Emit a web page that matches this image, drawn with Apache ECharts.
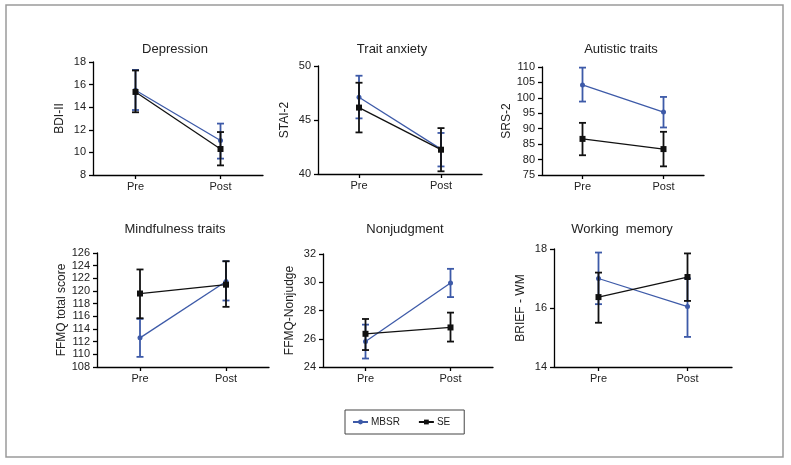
<!DOCTYPE html>
<html><head><meta charset="utf-8">
<script src="https://cdn.jsdelivr.net/npm/echarts@6/dist/echarts.min.js"></script>
<style>html,body{margin:0;padding:0;background:#fff}#c{width:791px;height:465px}</style>
</head><body><div id="c"></div>
<script>
const categories = ['Pre', 'Post'];
const titles = ['Depression', 'Trait anxiety', 'Autistic traits', 'Mindfulness traits', 'Nonjudgment', 'Working  memory'];
const yNames = ['BDI-II', 'STAI-2', 'SRS-2', 'FFMQ total score', 'FFMQ-Nonjudge', 'BRIEF - WM'];
const yMins = [8, 40, 75, 108, 24, 14];
const yMaxs = [18, 50, 110, 126, 32, 18];
const yIntervals = [2, 5, 5, 2, 2, 2];

// means
const depMBSR = [15.5, 11.05];
const depSE = [15.35, 10.3];
const anxMBSR = [47.1, 42.3];
const anxSE = [46.15, 42.25];
const autMBSR = [104.2, 95.4];
const autSE = [86.7, 83.4];
const mindMBSR = [112.6, 121.5];
const mindSE = [119.6, 121.0];
const nonjMBSR = [25.8, 29.95];
const nonjSE = [26.35, 26.8];
const wmMBSR = [17.0, 16.05];
const wmSE = [16.37, 17.05];

// error bar lows / highs
const depMBSRLow = [13.75, 9.45],  depMBSRHigh = [17.3, 12.55];
const depSELow = [13.55, 8.85],    depSEHigh = [17.25, 11.8];
const anxMBSRLow = [45.15, 40.7],  anxMBSRHigh = [49.1, 43.8];
const anxSELow = [43.85, 40.25],   anxSEHigh = [48.45, 44.25];
const autMBSRLow = [98.8, 90.4],   autMBSRHigh = [109.8, 100.3];
const autSELow = [81.4, 77.8],     autSEHigh = [91.9, 89.0];
const mindMBSRLow = [109.6, 118.5], mindMBSRHigh = [115.6, 124.7];
const mindSELow = [115.7, 117.5],  mindSEHigh = [123.4, 124.7];
const nonjMBSRLow = [24.6, 28.95], nonjMBSRHigh = [27.0, 30.95];
const nonjSELow = [25.2, 25.8],    nonjSEHigh = [27.4, 27.85];
const wmMBSRLow = [16.13, 15.02],  wmMBSRHigh = [17.88, 17.0];
const wmSELow = [15.5, 16.24],     wmSEHigh = [17.2, 17.85];

const mbsrMeans = [depMBSR, anxMBSR, autMBSR, mindMBSR, nonjMBSR, wmMBSR];
const seMeans = [depSE, anxSE, autSE, mindSE, nonjSE, wmSE];
const mbsrLows = [depMBSRLow, anxMBSRLow, autMBSRLow, mindMBSRLow, nonjMBSRLow, wmMBSRLow];
const mbsrHighs = [depMBSRHigh, anxMBSRHigh, autMBSRHigh, mindMBSRHigh, nonjMBSRHigh, wmMBSRHigh];
const seLows = [depSELow, anxSELow, autSELow, mindSELow, nonjSELow, wmSELow];
const seHighs = [depSEHigh, anxSEHigh, autSEHigh, mindSEHigh, nonjSEHigh, wmSEHigh];

// layout
const grids = [
  {left: 93, top: 62, width: 170, height: 113},
  {left: 318, top: 66, width: 164, height: 108},
  {left: 542, top: 67, width: 162, height: 108},
  {left: 97, top: 253, width: 172, height: 114},
  {left: 323, top: 254, width: 170, height: 113},
  {left: 554, top: 249, width: 178, height: 118}
];
const titlePos = [[175, 49], [392, 49], [621, 49], [175, 229], [405, 229], [622, 229]];

const BLUE = '#3d5aa8';
const BLACK = '#111';

const chart = echarts.init(document.getElementById('c'), null, {renderer: 'canvas'});

function errRender(color) {
  return function (params, api) {
    const x = api.value(0);
    const lo = api.coord([x, api.value(1)]);
    const hi = api.coord([x, api.value(2)]);
    const cw = 3.5;
    const st = {stroke: color, lineWidth: 1.8};
    return {type: 'group', children: [
      {type: 'line', shape: {x1: lo[0], y1: lo[1], x2: hi[0], y2: hi[1]}, style: st},
      {type: 'line', shape: {x1: lo[0] - cw, y1: lo[1], x2: lo[0] + cw, y2: lo[1]}, style: st},
      {type: 'line', shape: {x1: hi[0] - cw, y1: hi[1], x2: hi[0] + cw, y2: hi[1]}, style: st}
    ]};
  };
}

const xAxes = [], yAxes = [], series = [], gridOpts = [];
const axisLine = {show: true, lineStyle: {color: '#000', width: 1.3}};
const labelStyle = {color: '#222', fontSize: 11, fontFamily: 'Liberation Sans, Arial, sans-serif'};

for (let i = 0; i < 6; i++) {
  gridOpts.push(Object.assign({containLabel: false}, grids[i]));
  xAxes.push({type: 'category', gridIndex: i, data: categories, boundaryGap: true,
    axisLine: axisLine, axisTick: {show: true, alignWithLabel: true, length: 4, lineStyle: {color: '#000', width: 1.3}},
    axisLabel: Object.assign({margin: 6}, labelStyle), splitLine: {show: false}});
  yAxes.push({type: 'value', gridIndex: i, min: yMins[i], max: yMaxs[i], interval: yIntervals[i],
    axisLine: axisLine, axisTick: {show: true, length: 4, lineStyle: {color: '#000', width: 1.3}},
    axisLabel: Object.assign({margin: 7}, labelStyle), splitLine: {show: false},
    name: yNames[i], nameLocation: 'middle', nameGap: 27,
    nameTextStyle: {color: '#222', fontSize: 12, fontFamily: 'Liberation Sans, Arial, sans-serif'}});

  const mErr = categories.map((c, k) => [k, mbsrLows[i][k], mbsrHighs[i][k]]);
  const sErr = categories.map((c, k) => [k, seLows[i][k], seHighs[i][k]]);
  series.push({type: 'custom', name: 'MBSR err', xAxisIndex: i, yAxisIndex: i, renderItem: errRender(BLUE), data: mErr, z: 2});
  series.push({type: 'line', name: 'MBSR', xAxisIndex: i, yAxisIndex: i, data: mbsrMeans[i],
    color: BLUE, lineStyle: {color: BLUE, width: 1.3}, symbol: 'circle', symbolSize: 5,
    itemStyle: {color: BLUE}, z: 3});
  series.push({type: 'custom', name: 'SE err', xAxisIndex: i, yAxisIndex: i, renderItem: errRender(BLACK), data: sErr, z: 4});
  series.push({type: 'line', name: 'SE', xAxisIndex: i, yAxisIndex: i, data: seMeans[i],
    color: BLACK, lineStyle: {color: BLACK, width: 1.3}, symbol: 'rect', symbolSize: 6,
    itemStyle: {color: BLACK}, z: 5});
}

const titleOpts = titles.map((t, i) => ({
  text: t, left: titlePos[i][0], top: titlePos[i][1], textAlign: 'center', textVerticalAlign: 'middle',
  textStyle: {fontSize: 13, fontWeight: 'normal', color: '#222', fontFamily: 'Liberation Sans, Arial, sans-serif'},
  padding: 0
}));

chart.setOption({
  animation: false,
  backgroundColor: '#fff',
  title: titleOpts,
  grid: gridOpts,
  xAxis: xAxes,
  yAxis: yAxes,
  series: series,
  legend: {data: ['MBSR', 'SE'], left: 345, top: 410, orient: 'horizontal',
    borderColor: '#444', borderWidth: 1, borderRadius: 0, padding: [7, 14, 7, 7],
    itemWidth: 15, itemHeight: 6, itemGap: 18,
    textStyle: {fontSize: 10, color: '#222', fontFamily: 'Liberation Sans, Arial, sans-serif', padding: [0, 0, 0, -2]}},
  graphic: [{type: 'rect', shape: {x: 6, y: 5, width: 777, height: 452},
    style: {fill: 'none', stroke: '#9a9a9a', lineWidth: 1.5}, silent: true}]
});
</script></body></html>
